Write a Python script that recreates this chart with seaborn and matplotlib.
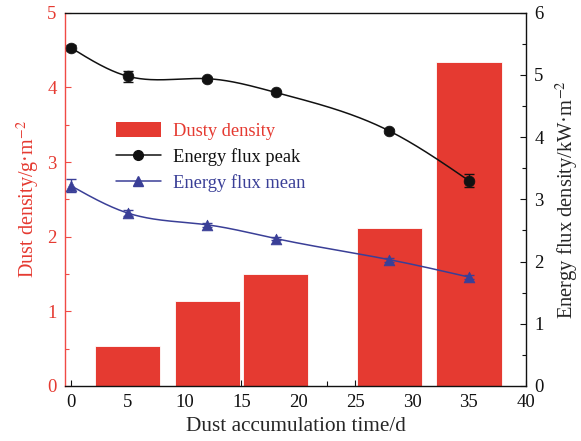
import numpy as np
import pandas as pd
import matplotlib
matplotlib.use("Agg")
import matplotlib.pyplot as plt
from matplotlib.patches import Patch
from matplotlib.lines import Line2D
from matplotlib.ticker import MultipleLocator
import seaborn as sns

# Dust density measured at each accumulation time
bar_days = [5, 12, 18, 28, 35]
dust_density = [0.54, 1.14, 1.50, 2.11, 4.34]

# Energy flux density (kW/m^2) over accumulation time
flux_days = [0, 5, 12, 18, 28, 35]
flux_peak = [5.44, 4.98, 4.94, 4.72, 4.10, 3.30]
flux_peak_err = [0.05, 0.09, 0.03, 0.03, 0.03, 0.10]
flux_mean = [3.22, 2.78, 2.59, 2.37, 2.03, 1.75]
flux_mean_err = [0.10, 0.05, 0.03, 0.03, 0.03, 0.03]

RED = "#E53A31"
RED_AX = "#F04A45"
BLUE = "#3A3F97"
BLACK = "#111111"

sns.set_style("ticks")
plt.rcParams["font.family"] = ["Liberation Serif", "DejaVu Serif"]
plt.rcParams["mathtext.fontset"] = "stix"


def natural_spline(x, y, n=300):
    """Natural cubic spline through the given points, for a smooth connecting curve."""
    x = np.asarray(x, float)
    y = np.asarray(y, float)
    k = len(x)
    h = np.diff(x)
    A = np.zeros((k, k))
    r = np.zeros(k)
    A[0, 0] = A[-1, -1] = 1.0
    for i in range(1, k - 1):
        A[i, i - 1] = h[i - 1]
        A[i, i] = 2 * (h[i - 1] + h[i])
        A[i, i + 1] = h[i]
        r[i] = 6 * ((y[i + 1] - y[i]) / h[i] - (y[i] - y[i - 1]) / h[i - 1])
    M = np.linalg.solve(A, r)
    xs = np.linspace(x[0], x[-1], n)
    idx = np.clip(np.searchsorted(x, xs) - 1, 0, k - 2)
    x0, x1 = x[idx], x[idx + 1]
    hh = x1 - x0
    a = (x1 - xs) / hh
    b = (xs - x0) / hh
    ys = (a * y[idx] + b * y[idx + 1]
          + ((a ** 3 - a) * M[idx] + (b ** 3 - b) * M[idx + 1]) * hh ** 2 / 6)
    return xs, ys


fig = plt.figure(figsize=(5.81, 4.41), dpi=100)
ax = fig.add_axes([0.112, 0.125, 0.793, 0.846])

bars = pd.DataFrame({"day": bar_days, "density": dust_density})
sns.barplot(data=bars, x="day", y="density", native_scale=True, width=0.96,
            color=RED, saturation=1, edgecolor="white", linewidth=0.6, ax=ax)

ax.set_xlim(-0.5, 40)
ax.set_ylim(0, 5)
ax.xaxis.set_major_locator(MultipleLocator(5))
ax.xaxis.set_minor_locator(MultipleLocator(2.5))
ax.yaxis.set_major_locator(MultipleLocator(1))
ax.yaxis.set_minor_locator(MultipleLocator(0.5))
ax.set_xlabel("Dust accumulation time/d", fontsize=15.3, labelpad=4)
ax.set_ylabel("Dust density/g·m$^{-2}$", fontsize=14.5, color=RED, labelpad=4)
ax.tick_params(axis="x", which="both", direction="in", top=False,
               labelsize=13.5, colors=BLACK, pad=6)
ax.tick_params(axis="x", which="major", length=4, width=0.8)
ax.tick_params(axis="x", which="minor", length=3.5, width=0.8)
ax.tick_params(axis="y", which="both", direction="in", colors=RED_AX,
               labelcolor=RED, labelsize=13.5, pad=6)
ax.tick_params(axis="y", which="major", length=4, width=0.8)
ax.tick_params(axis="y", which="minor", length=3, width=0.8)
ax.spines["left"].set_color(RED_AX)
ax.spines["right"].set_visible(False)
for s in ("top", "bottom"):
    ax.spines[s].set_color(BLACK)
for s in ax.spines.values():
    s.set_linewidth(1.0)

ax2 = ax.twinx()
ax2.set_ylim(0, 6)
ax2.yaxis.set_major_locator(MultipleLocator(1))
ax2.yaxis.set_minor_locator(MultipleLocator(0.5))
ax2.tick_params(axis="y", which="both", direction="in", colors=BLACK,
                labelsize=13.5, pad=6)
ax2.tick_params(axis="y", which="major", length=4, width=0.8)
ax2.tick_params(axis="y", which="minor", length=3, width=0.8)
ax2.spines["left"].set_visible(False)
ax2.spines["bottom"].set_visible(False)
ax2.spines["top"].set_visible(False)
ax2.spines["right"].set_color(BLACK)
ax2.spines["right"].set_linewidth(1.0)
ax2.set_ylabel("Energy flux density/kW·m$^{-2}$", fontsize=14.8, labelpad=7)

for vals, errs, col, mk in ((flux_peak, flux_peak_err, BLACK, "o"),
                            (flux_mean, flux_mean_err, BLUE, "^")):
    xs, ys = natural_spline(flux_days, vals)
    ax2.plot(xs, ys, color=col, lw=1.1, zorder=3)
    ax2.errorbar(flux_days, vals, yerr=errs, fmt="none", ecolor=col,
                 elinewidth=1.0, capsize=3.5, capthick=1.0, zorder=4)
    sns.scatterplot(x=flux_days, y=vals, marker=mk, color=col, s=60,
                    edgecolor=col, linewidth=0.5, zorder=5, ax=ax2)

handles = [
    Patch(facecolor=RED, edgecolor="none"),
    Line2D([], [], color=BLACK, lw=1.1, marker="o", markersize=7),
    Line2D([], [], color=BLUE, lw=1.1, marker="^", markersize=7.5),
]
labels = ["Dusty density", "Energy flux peak", "Energy flux mean"]
leg = ax2.legend(handles, labels, loc="upper left",
                 bbox_to_anchor=(0.095, 0.728), frameon=False, fontsize=13.3,
                 handlelength=2.4, handleheight=0.9, handletextpad=0.7,
                 labelspacing=0.45, borderaxespad=0)
for txt, col in zip(leg.get_texts(), (RED, BLACK, BLUE)):
    txt.set_color(col)

fig.savefig("out.png", dpi=100)
